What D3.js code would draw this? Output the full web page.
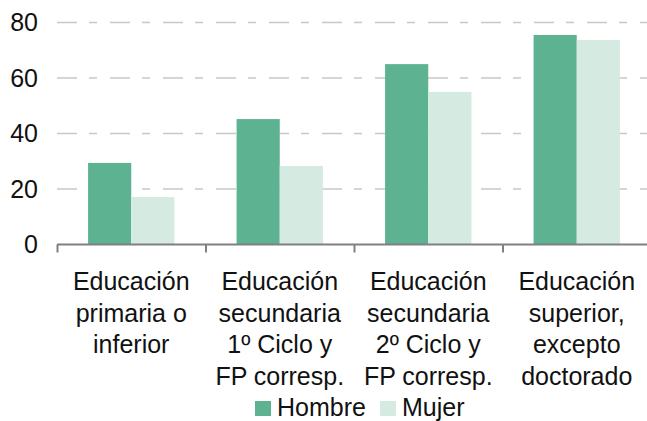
<!DOCTYPE html>
<html>
<head>
<meta charset="utf-8">
<script src="https://cdn.jsdelivr.net/npm/d3@7"></script>
<style>
  body { margin: 0; background: #fff; }
  svg { font-family: "Liberation Sans", Arial, sans-serif; }
</style>
</head>
<body>
<svg id="chart" width="647" height="421"></svg>
<script>
// data
var categories = [
  ["Educación", "primaria o", "inferior"],
  ["Educación", "secundaria", "1º Ciclo y", "FP corresp."],
  ["Educación", "secundaria", "2º Ciclo y", "FP corresp."],
  ["Educación", "superior,", "excepto", "doctorado"]
];
var seriesNames = ["Hombre", "Mujer"];
var hombre = [29.4, 45.2, 65.0, 75.5];
var mujer = [17.1, 28.3, 55.0, 73.7];
var yTicks = [0, 20, 40, 60, 80];
var colors = ["#5db391", "#d5ebe1"];

var svg = d3.select('#chart');

var x = d3.scaleBand()
  .domain(d3.range(categories.length))
  .range([57, 651])
  .paddingInner(0)
  .paddingOuter(0);

var xs = d3.scaleBand()
  .domain(seriesNames)
  .range([0, x.bandwidth()])
  .paddingInner(0)
  .paddingOuter(0.72);

var y = d3.scaleLinear().domain([0, 80]).range([244.5, 22.5]);

// gridlines
svg.append('g').selectAll('line')
  .data(yTicks.filter(function(d){ return d > 0; }))
  .enter().append('line')
  .attr('x1', 57).attr('x2', 647)
  .attr('y1', function(d){ return y(d); })
  .attr('y2', function(d){ return y(d); })
  .attr('stroke', '#c8c8c8')
  .attr('stroke-width', 1.5)
  .attr('stroke-dasharray', '20,12,8,13');

// y labels
svg.append('g').selectAll('text')
  .data(yTicks)
  .enter().append('text')
  .attr('x', 38)
  .attr('y', function(d){ return y(d) + 8.5; })
  .attr('text-anchor', 'end')
  .attr('font-size', 25)
  .attr('fill', '#111')
  .text(function(d){ return d; });

// bars
var rows = categories.map(function(c, i){
  return [{s: "Hombre", v: hombre[i]}, {s: "Mujer", v: mujer[i]}];
});

var groups = svg.append('g').selectAll('g')
  .data(rows)
  .enter().append('g')
  .attr('transform', function(d, i){ return 'translate(' + x(i) + ',0)'; });

groups.selectAll('rect')
  .data(function(d){ return d; })
  .enter().append('rect')
  .attr('x', function(d){ return xs(d.s); })
  .attr('width', xs.bandwidth())
  .attr('y', function(d){ return y(d.v); })
  .attr('height', function(d){ return y(0) - y(d.v); })
  .attr('fill', function(d, i){ return colors[i]; });

// x axis
svg.append('line')
  .attr('x1', 57).attr('x2', 647)
  .attr('y1', y(0)).attr('y2', y(0))
  .attr('stroke', '#808080')
  .attr('stroke-width', 2);

svg.append('g').selectAll('line')
  .data(d3.range(categories.length))
  .enter().append('line')
  .attr('x1', function(d){ return x(d) + 0.5; })
  .attr('x2', function(d){ return x(d) + 0.5; })
  .attr('y1', y(0)).attr('y2', y(0) + 8)
  .attr('stroke', '#808080')
  .attr('stroke-width', 2);

// category labels
var labels = svg.append('g').selectAll('text')
  .data(categories)
  .enter().append('text')
  .attr('text-anchor', 'middle')
  .attr('font-size', 25)
  .attr('fill', '#111');

labels.selectAll('tspan')
  .data(function(d, i){ return d.map(function(t){ return {t: t, i: i}; }); })
  .enter().append('tspan')
  .attr('x', function(d){ return x(d.i) + x.bandwidth() / 2; })
  .attr('y', function(d, j){ return 290 + j * 31.7; })
  .text(function(d){ return d.t; });

// legend
var legendX = [255, 380];
var legend = svg.append('g').selectAll('g')
  .data(seriesNames)
  .enter().append('g')
  .attr('transform', function(d, i){ return 'translate(' + legendX[i] + ',401)'; });

legend.append('rect')
  .attr('width', 16).attr('height', 15)
  .attr('fill', function(d, i){ return colors[i]; });

legend.append('text')
  .attr('x', 22)
  .attr('y', 14.5)
  .attr('font-size', 25)
  .attr('fill', '#111')
  .text(function(d){ return d; });
</script>
</body>
</html>
